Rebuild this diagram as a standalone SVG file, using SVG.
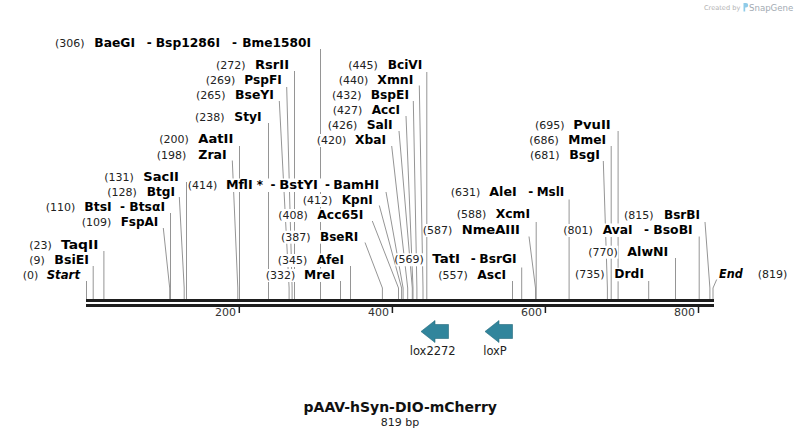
<svg xmlns="http://www.w3.org/2000/svg" width="801" height="438" viewBox="0 0 801 438">
<style>
.num{font-family:"DejaVu Sans",Verdana,sans-serif;font-size:11px;fill:#222}
.nm{font-family:"DejaVu Sans",Verdana,sans-serif;font-size:12px;font-weight:bold;fill:#000}
.it{font-style:italic}
.bg{fill:#fff}
.lead{stroke:#959595;stroke-width:1;fill:none}
.bar{fill:#1e1e1e}
.tick{stroke:#1e1e1e;stroke-width:1.5}
.tl{font-family:"DejaVu Sans",Verdana,sans-serif;font-size:11px;fill:#333;text-anchor:end}
.feat{fill:#31859c;stroke:#24687a;stroke-width:0.6}
.fl{font-family:"DejaVu Sans",Verdana,sans-serif;font-size:11.5px;fill:#222;text-anchor:middle}
</style>
<rect width="801" height="438" fill="#fff"/>
<g id="credit">
<text x="704" y="10" font-family="DejaVu Sans,sans-serif" font-size="6.6" fill="#b4b4b4">Created by</text>
<path d="M743.5 3 h2.5 a2.2 2.2 0 0 1 0 4.4 h-0.8 v4 h-1.7 z" fill="#8fcbe8"/>
<text x="749" y="11" font-family="DejaVu Sans,sans-serif" font-size="8.6" fill="#a3abb3">SnapGene</text>
</g>
<g id="connectors">
<path class="lead" d="M320.5 49V299"/>
<path class="lead" d="M294.5 71V299"/>
<path class="lead" d="M286.7 87L292.1 288V299"/>
<path class="lead" d="M279.3 101L289.1 288V299"/>
<path class="lead" d="M268.5 123V299"/>
<path class="lead" d="M239.5 146V299"/>
<path class="lead" d="M232.3 160.5L237.8 288V299"/>
<path class="lead" d="M186.5 182V299"/>
<path class="lead" d="M179.3 197L184.2 288V299"/>
<path class="lead" d="M170.5 213V299"/>
<path class="lead" d="M163.3 228L169.7 288V299"/>
<path class="lead" d="M103.9 251V299"/>
<path class="lead" d="M93.2 266V299"/>
<path class="lead" d="M86.5 281V299"/>
<path class="lead" d="M386 192L403.1 288V299"/>
<path class="lead" d="M379.3 205.5L401.6 288V299"/>
<path class="lead" d="M372.3 221L398.5 288V299"/>
<path class="lead" d="M365 242.5L382.4 288V299"/>
<path class="lead" d="M350.5 266V299"/>
<path class="lead" d="M340.5 281V299"/>
<path class="lead" d="M426.8 72V299"/>
<path class="lead" d="M419.3 85.5L423 288V299"/>
<path class="lead" d="M413.3 101L416.9 288V299"/>
<path class="lead" d="M406 116L413 288V299"/>
<path class="lead" d="M399 131L412.3 288V299"/>
<path class="lead" d="M391.7 146L407.7 288V299"/>
<path class="lead" d="M569.1 199.5V299"/>
<path class="lead" d="M536.2 222V299"/>
<path class="lead" d="M529 236.5L535.5 288V299"/>
<path class="lead" d="M521.7 267.5V299"/>
<path class="lead" d="M512.5 281V299"/>
<path class="lead" d="M618.1 131V299"/>
<path class="lead" d="M611.2 146V299"/>
<path class="lead" d="M603.3 161L607.4 288V299"/>
<path class="lead" d="M705 222L709.9 288V299"/>
<path class="lead" d="M699.2 236.5V299"/>
<path class="lead" d="M675.5 258V299"/>
<path class="lead" d="M648.7 281V299"/>
<path class="lead" d="M716.7 279.5L713 288V299"/>
</g>
<g id="ruler">
<rect class="bar" x="86" y="299" width="628" height="3"/>
<rect class="bar" x="86" y="304" width="628" height="3"/>
<line class="tick" x1="239.3" y1="306" x2="239.3" y2="313"/>
<line class="tick" x1="392.4" y1="306" x2="392.4" y2="313"/>
<line class="tick" x1="545.4" y1="306" x2="545.4" y2="313"/>
<line class="tick" x1="698.5" y1="306" x2="698.5" y2="313"/>
<text class="tl" x="236" y="315.5">200</text>
<text class="tl" x="389" y="315.5">400</text>
<text class="tl" x="542" y="315.5">600</text>
<text class="tl" x="695" y="315.5">800</text>
</g>
<g id="s306"><rect class="bg" x="56" y="37" width="29" height="13"/><rect class="bg" x="93.3" y="36.5" width="219" height="13.5"/><text class="num" x="55" y="47">(306)</text><text class="nm" x="94.3" y="47" textLength="40.7" lengthAdjust="spacingAndGlyphs">BaeGI</text><text class="nm" x="146.7" y="47">-</text><text class="nm" x="155.7" y="47" textLength="64.3" lengthAdjust="spacingAndGlyphs">Bsp1286I</text><text class="nm" x="232" y="47">-</text><text class="nm" x="242.3" y="47" textLength="68.7" lengthAdjust="spacingAndGlyphs">Bme1580I</text></g>
<g id="s272"><rect class="bg" x="217" y="58.7" width="29" height="13"/><rect class="bg" x="254" y="58.2" width="36" height="13.5"/><text class="num" x="216" y="68.7">(272)</text><text class="nm" x="255" y="68.7" textLength="34" lengthAdjust="spacingAndGlyphs">RsrII</text></g>
<g id="s269"><rect class="bg" x="206.7" y="74" width="29" height="13"/><rect class="bg" x="243.3" y="73.5" width="39.4" height="13.5"/><text class="num" x="205.7" y="84">(269)</text><text class="nm" x="244.3" y="84" textLength="37.4" lengthAdjust="spacingAndGlyphs">PspFI</text></g>
<g id="s265"><rect class="bg" x="197" y="89" width="29" height="13"/><rect class="bg" x="234" y="88.5" width="41" height="13.5"/><text class="num" x="196" y="99">(265)</text><text class="nm" x="235" y="99" textLength="39" lengthAdjust="spacingAndGlyphs">BseYI</text></g>
<g id="s238"><rect class="bg" x="196" y="111.3" width="29" height="13"/><rect class="bg" x="233.3" y="110.8" width="29.4" height="13.5"/><text class="num" x="195" y="121.3">(238)</text><text class="nm" x="234.3" y="121.3" textLength="27.4" lengthAdjust="spacingAndGlyphs">StyI</text></g>
<g id="s200"><rect class="bg" x="160.3" y="133.3" width="29" height="13"/><rect class="bg" x="197.3" y="132.8" width="37" height="13.5"/><text class="num" x="159.3" y="143.3">(200)</text><text class="nm" x="198.3" y="143.3" textLength="35" lengthAdjust="spacingAndGlyphs">AatII</text></g>
<g id="s198"><rect class="bg" x="157.7" y="149" width="29" height="13"/><rect class="bg" x="197.3" y="148.5" width="30.4" height="13.5"/><text class="num" x="156.7" y="159">(198)</text><text class="nm" x="198.3" y="159" textLength="28.4" lengthAdjust="spacingAndGlyphs">ZraI</text></g>
<g id="s131"><rect class="bg" x="105.3" y="170.7" width="29" height="13"/><rect class="bg" x="142.3" y="170.2" width="37.7" height="13.5"/><text class="num" x="104.3" y="180.7">(131)</text><text class="nm" x="143.3" y="180.7" textLength="35.7" lengthAdjust="spacingAndGlyphs">SacII</text></g>
<g id="s128"><rect class="bg" x="108.3" y="185.7" width="29" height="13"/><rect class="bg" x="145.7" y="185.2" width="30.3" height="13.5"/><text class="num" x="107.3" y="195.7">(128)</text><text class="nm" x="146.7" y="195.7" textLength="28.3" lengthAdjust="spacingAndGlyphs">BtgI</text></g>
<g id="s110"><rect class="bg" x="46.7" y="200.7" width="29" height="13"/><rect class="bg" x="83.3" y="200.2" width="82.7" height="13.5"/><text class="num" x="45.7" y="210.7">(110)</text><text class="nm" x="84.3" y="210.7" textLength="27.4" lengthAdjust="spacingAndGlyphs">BtsI</text><text class="nm" x="120" y="210.7">-</text><text class="nm" x="129.3" y="210.7" textLength="35.7" lengthAdjust="spacingAndGlyphs">BtsαI</text></g>
<g id="s109"><rect class="bg" x="82.7" y="215.7" width="29" height="13"/><rect class="bg" x="119.7" y="215.2" width="39.6" height="13.5"/><text class="num" x="81.7" y="225.7">(109)</text><text class="nm" x="120.7" y="225.7" textLength="37.6" lengthAdjust="spacingAndGlyphs">FspAI</text></g>
<g id="s23"><rect class="bg" x="30.3" y="239" width="22" height="13"/><rect class="bg" x="60" y="238.5" width="39.3" height="13.5"/><text class="num" x="29.3" y="249">(23)</text><text class="nm" x="61" y="249" textLength="37.3" lengthAdjust="spacingAndGlyphs">TaqII</text></g>
<g id="s9"><rect class="bg" x="30.3" y="254" width="15" height="13"/><rect class="bg" x="53.3" y="253.5" width="36.7" height="13.5"/><text class="num" x="29.3" y="264">(9)</text><text class="nm" x="54.3" y="264" textLength="34.7" lengthAdjust="spacingAndGlyphs">BsiEI</text></g>
<g id="start"><rect class="bg" x="23.7" y="269" width="15" height="13"/><rect class="bg" x="45.7" y="268.5" width="35.3" height="13.5"/><text class="num" x="22.7" y="279">(0)</text><text class="nm it" x="46.7" y="279" textLength="33.3" lengthAdjust="spacingAndGlyphs">Start</text></g>
<g id="s414"><rect class="bg" x="188.7" y="179" width="29" height="13"/><rect class="bg" x="225" y="178.5" width="155" height="13.5"/><text class="num" x="187.7" y="189">(414)</text><text class="nm" x="226" y="189" textLength="26.7" lengthAdjust="spacingAndGlyphs">MflI</text><text class="nm" x="256.7" y="189">*</text><text class="nm" x="270.5" y="189">-</text><text class="nm" x="279.3" y="189" textLength="38.7" lengthAdjust="spacingAndGlyphs">BstYI</text><text class="nm" x="325" y="189">-</text><text class="nm" x="333.3" y="189" textLength="45.7" lengthAdjust="spacingAndGlyphs">BamHI</text></g>
<g id="s412"><rect class="bg" x="303.7" y="194" width="29" height="13"/><rect class="bg" x="340.7" y="193.5" width="33" height="13.5"/><text class="num" x="302.7" y="204">(412)</text><text class="nm" x="341.7" y="204" textLength="31" lengthAdjust="spacingAndGlyphs">KpnI</text></g>
<g id="s408"><rect class="bg" x="279.3" y="209" width="29" height="13"/><rect class="bg" x="316.3" y="208.5" width="48" height="13.5"/><text class="num" x="278.3" y="219">(408)</text><text class="nm" x="317.3" y="219" textLength="46" lengthAdjust="spacingAndGlyphs">Acc65I</text></g>
<g id="s387"><rect class="bg" x="282" y="230.7" width="29" height="13"/><rect class="bg" x="319" y="230.2" width="40.3" height="13.5"/><text class="num" x="281" y="240.7">(387)</text><text class="nm" x="320" y="240.7" textLength="38.3" lengthAdjust="spacingAndGlyphs">BseRI</text></g>
<g id="s345"><rect class="bg" x="278.7" y="254" width="29" height="13"/><rect class="bg" x="315.7" y="253.5" width="29.3" height="13.5"/><text class="num" x="277.7" y="264">(345)</text><text class="nm" x="316.7" y="264" textLength="27.3" lengthAdjust="spacingAndGlyphs">AfeI</text></g>
<g id="s332"><rect class="bg" x="266.7" y="269" width="29" height="13"/><rect class="bg" x="303" y="268.5" width="33" height="13.5"/><text class="num" x="265.7" y="279">(332)</text><text class="nm" x="304" y="279" textLength="31" lengthAdjust="spacingAndGlyphs">MreI</text></g>
<g id="s445"><rect class="bg" x="349.3" y="59" width="29" height="13"/><rect class="bg" x="386.7" y="58.5" width="36.6" height="13.5"/><text class="num" x="348.3" y="69">(445)</text><text class="nm" x="387.7" y="69" textLength="34.6" lengthAdjust="spacingAndGlyphs">BciVI</text></g>
<g id="s440"><rect class="bg" x="339.7" y="74" width="29" height="13"/><rect class="bg" x="376.3" y="73.5" width="38" height="13.5"/><text class="num" x="338.7" y="84">(440)</text><text class="nm" x="377.3" y="84" textLength="36" lengthAdjust="spacingAndGlyphs">XmnI</text></g>
<g id="s432"><rect class="bg" x="333" y="89" width="29" height="13"/><rect class="bg" x="369.7" y="88.5" width="40.3" height="13.5"/><text class="num" x="332" y="99">(432)</text><text class="nm" x="370.7" y="99" textLength="38.3" lengthAdjust="spacingAndGlyphs">BspEI</text></g>
<g id="s427"><rect class="bg" x="333.7" y="104" width="29" height="13"/><rect class="bg" x="370.7" y="103.5" width="30.3" height="13.5"/><text class="num" x="332.7" y="114">(427)</text><text class="nm" x="371.7" y="114" textLength="28.3" lengthAdjust="spacingAndGlyphs">AccI</text></g>
<g id="s426"><rect class="bg" x="328.7" y="119" width="29" height="13"/><rect class="bg" x="365.7" y="118.5" width="28" height="13.5"/><text class="num" x="327.7" y="129">(426)</text><text class="nm" x="366.7" y="129" textLength="26" lengthAdjust="spacingAndGlyphs">SalI</text></g>
<g id="s420"><rect class="bg" x="317.7" y="134" width="29" height="13"/><rect class="bg" x="354" y="133.5" width="33" height="13.5"/><text class="num" x="316.7" y="144">(420)</text><text class="nm" x="355" y="144" textLength="31" lengthAdjust="spacingAndGlyphs">XbaI</text></g>
<g id="s631"><rect class="bg" x="451.7" y="185.7" width="29" height="13"/><rect class="bg" x="488.3" y="185.2" width="77" height="13.5"/><text class="num" x="450.7" y="195.7">(631)</text><text class="nm" x="489.3" y="195.7" textLength="27.4" lengthAdjust="spacingAndGlyphs">AleI</text><text class="nm" x="528.3" y="195.7">-</text><text class="nm" x="536.7" y="195.7" textLength="27.6" lengthAdjust="spacingAndGlyphs">MslI</text></g>
<g id="s588"><rect class="bg" x="457.7" y="208.3" width="29" height="13"/><rect class="bg" x="494.7" y="207.8" width="36.3" height="13.5"/><text class="num" x="456.7" y="218.3">(588)</text><text class="nm" x="495.7" y="218.3" textLength="34.3" lengthAdjust="spacingAndGlyphs">XcmI</text></g>
<g id="s587"><rect class="bg" x="423.7" y="224" width="29" height="13"/><rect class="bg" x="460.7" y="223.5" width="60.3" height="13.5"/><text class="num" x="422.7" y="234">(587)</text><text class="nm" x="461.7" y="234" textLength="58.3" lengthAdjust="spacingAndGlyphs">NmeAIII</text></g>
<g id="s569"><rect class="bg" x="395.3" y="253.3" width="29" height="13"/><rect class="bg" x="431.3" y="252.8" width="86.4" height="13.5"/><text class="num" x="394.3" y="263.3">(569)</text><text class="nm" x="432.3" y="263.3" textLength="27.7" lengthAdjust="spacingAndGlyphs">TatI</text><text class="nm" x="470.7" y="263.3">-</text><text class="nm" x="479.3" y="263.3" textLength="37.4" lengthAdjust="spacingAndGlyphs">BsrGI</text></g>
<g id="s557"><rect class="bg" x="439.3" y="269" width="29" height="13"/><rect class="bg" x="476.3" y="268.5" width="30.7" height="13.5"/><text class="num" x="438.3" y="279">(557)</text><text class="nm" x="477.3" y="279" textLength="28.7" lengthAdjust="spacingAndGlyphs">AscI</text></g>
<g id="s695"><rect class="bg" x="536" y="119" width="29" height="13"/><rect class="bg" x="572.3" y="118.5" width="39.4" height="13.5"/><text class="num" x="535" y="129">(695)</text><text class="nm" x="573.3" y="129" textLength="37.4" lengthAdjust="spacingAndGlyphs">PvuII</text></g>
<g id="s686"><rect class="bg" x="530.3" y="134" width="29" height="13"/><rect class="bg" x="567.3" y="133.5" width="39.7" height="13.5"/><text class="num" x="529.3" y="144">(686)</text><text class="nm" x="568.3" y="144" textLength="37.7" lengthAdjust="spacingAndGlyphs">MmeI</text></g>
<g id="s681"><rect class="bg" x="531" y="149" width="29" height="13"/><rect class="bg" x="568.3" y="148.5" width="32.7" height="13.5"/><text class="num" x="530" y="159">(681)</text><text class="nm" x="569.3" y="159" textLength="30.7" lengthAdjust="spacingAndGlyphs">BsgI</text></g>
<g id="s815"><rect class="bg" x="625" y="209" width="29" height="13"/><rect class="bg" x="663" y="208.5" width="38" height="13.5"/><text class="num" x="624" y="219">(815)</text><text class="nm" x="664" y="219" textLength="36" lengthAdjust="spacingAndGlyphs">BsrBI</text></g>
<g id="s801"><rect class="bg" x="564.3" y="224" width="29" height="13"/><rect class="bg" x="601.7" y="223.5" width="92" height="13.5"/><text class="num" x="563.3" y="234">(801)</text><text class="nm" x="602.7" y="234" textLength="30" lengthAdjust="spacingAndGlyphs">AvaI</text><text class="nm" x="644" y="234">-</text><text class="nm" x="653.3" y="234" textLength="39.4" lengthAdjust="spacingAndGlyphs">BsoBI</text></g>
<g id="s770"><rect class="bg" x="589.3" y="245.7" width="29" height="13"/><rect class="bg" x="626.3" y="245.2" width="43" height="13.5"/><text class="num" x="588.3" y="255.7">(770)</text><text class="nm" x="627.3" y="255.7" textLength="41" lengthAdjust="spacingAndGlyphs">AlwNI</text></g>
<g id="s735"><rect class="bg" x="576" y="268.3" width="29" height="13"/><rect class="bg" x="613.3" y="267.8" width="31.7" height="13.5"/><text class="num" x="575" y="278.3">(735)</text><text class="nm" x="614.3" y="278.3" textLength="29.7" lengthAdjust="spacingAndGlyphs">DrdI</text></g>
<g id="end"><rect class="bg" x="718" y="267.8" width="26" height="13.5"/><rect class="bg" x="758.7" y="268.3" width="29" height="13"/><text class="nm it" x="719" y="278.3" textLength="23.7" lengthAdjust="spacingAndGlyphs">End</text><text class="num" x="757.7" y="278.3">(819)</text></g>
<g id="lox2272"><path class="feat" d="M421 331.5L435 320.5V324.5H448.5V338.5H435V342.5Z"/><text class="fl" x="432.7" y="355">lox2272</text></g>
<g id="loxP"><path class="feat" d="M485 331.5L499 320.5V324.5H512.5V338.5H499V342.5Z"/><text class="fl" x="495" y="355">loxP</text></g>
<g id="title">
<text x="400.3" y="411.5" font-family="DejaVu Sans,sans-serif" font-size="14" font-weight="bold" fill="#111" text-anchor="middle">pAAV-hSyn-DIO-mCherry</text>
<text x="400" y="426" font-family="DejaVu Sans,sans-serif" font-size="11" fill="#222" text-anchor="middle">819 bp</text>
</g>
</svg>
